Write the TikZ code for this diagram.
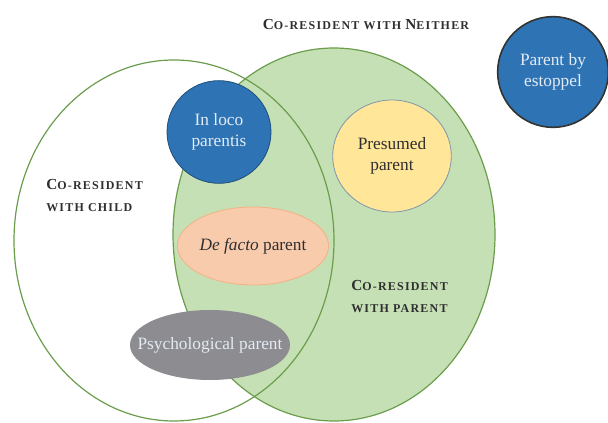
\documentclass[tikz,border=0pt]{standalone}
\usepackage{fontspec}
\setmainfont{Liberation Serif}
\newfontfamily\capsfont[LetterSpace=10]{Liberation Serif}
\usetikzlibrary{shapes.geometric}
\definecolor{vgreen}{HTML}{C6E0B5}
\definecolor{vline}{HTML}{6A9D4C}
\definecolor{vblue}{HTML}{2E74B5}
\definecolor{vnavy}{HTML}{1F4E79}
\definecolor{vyellow}{HTML}{FFE699}
\definecolor{vring}{HTML}{8096AA}
\definecolor{vsalmon}{HTML}{F8CBAD}
\definecolor{vpeach}{HTML}{F4B183}
\definecolor{vgray}{HTML}{8C8C91}
\definecolor{vpale}{HTML}{E4EBF3}
\definecolor{vtext}{HTML}{2F2F2F}
\newcommand{\smcap}[2]{{\capsfont\bfseries #1{\fontsize{9}{16.5}\selectfont\MakeUppercase{#2}}}}
\tikzstyle{group} = [ellipse, draw=vline, line width=0.9pt, inner sep=0pt]
\tikzstyle{status} = [ellipse, inner sep=0pt, align=center, font=\fontsize{13}{15.75}\selectfont]
\tikzstyle{heading} = [inner sep=0pt, align=left, text=vtext, font=\fontsize{11.5}{16.5}\selectfont]

\begin{document}
\begin{tikzpicture}[x=0.75pt, y=-0.75pt]
  \useasboundingbox (0,0) rectangle (608,423);
  \node (coparent) [group, fill=vgreen, minimum width=241.5pt, minimum height=279.75pt] at (334,234.5) {};
  \node (cochild) [group, minimum width=240pt, minimum height=270.75pt] at (174,240.5) {};
  \node (loco) [status, fill=vblue, draw=vnavy, line width=0.6pt, text=vpale, minimum width=78pt, minimum height=77pt] at (219,132) {In loco\\parentis};
  \node (presumed) [status, fill=vyellow, draw=vring, line width=0.6pt, text=vtext, minimum width=89pt, minimum height=84pt] at (392,156) {Presumed\\parent};
  \node (estoppel) [status, fill=vblue, draw=black!80, line width=1.2pt, text=vpale, minimum width=83pt, minimum height=83pt] at (553,72) {Parent by\\estoppel};
  \node (defacto) [status, fill=vsalmon, draw=vpeach, line width=0.6pt, text=vtext, minimum width=112.5pt, minimum height=58.5pt] at (253,246) {\textit{De facto} parent};
  \node (psych) [status, fill=vgray, minimum width=120pt, minimum height=52.5pt, label={[text=vpale, font=\fontsize{13}{15.75}\selectfont]center:Psychological parent}] at (210,345) {};
  \node (lblneither) [heading] at (366,25) {\smcap{C}{o-resident with }\smcap{N}{either}};
  \node (lblchild) [heading, anchor=west] at (46,196) {\smcap{C}{o-resident}\\\smcap{}{with child}};
  \node (lblparent) [heading, anchor=west] at (351,296.5) {\smcap{C}{o-resident}\\\smcap{}{with parent}};
\end{tikzpicture}
\end{document}
